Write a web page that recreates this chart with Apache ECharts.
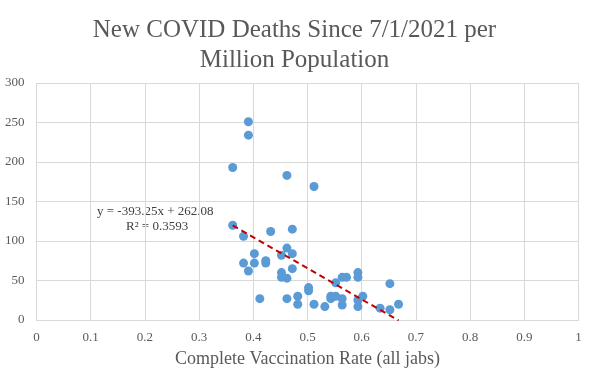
<!DOCTYPE html>
<html><head><meta charset="utf-8">
<script src="https://cdn.jsdelivr.net/npm/echarts@6/dist/echarts.min.js"></script>
<style>html,body{margin:0;padding:0;background:#fff}#c{width:589px;height:380px}</style>
</head><body><div id="c"></div>
<script>
const vaxRate = [0.362,0.391,0.391,0.462,0.512,0.362,0.382,0.432,0.472,0.462,0.402,0.452,0.472,0.382,0.402,0.423,0.423,0.391,0.472,0.452,0.452,0.462,0.502,0.502,0.412,0.462,0.482,0.482,0.512,0.532,0.543,0.543,0.552,0.552,0.564,0.572,0.593,0.593,0.652,0.564,0.564,0.593,0.593,0.602,0.634,0.652,0.668];
const deaths = [193,251,234,183,169,120,106,112,115,91,84,82,84,72,72,75,72,62,65,60,54,53,41,37,27,27,30,20,20,17,27,30,30,47,54,54,60,54,46,27,19,25,17,30,15,13,20];
const trendSlope = -393.25;
const trendIntercept = 262.08;
const trendText = ["y = -393.25x + 262.08", "R² = 0.3593"];

const pts = vaxRate.map((x, i) => [x, deaths[i]]);
const xMin = Math.min(...vaxRate), xMax = Math.max(...vaxRate);
const trend = [[xMin, trendSlope * xMin + trendIntercept], [xMax, trendSlope * xMax + trendIntercept]];

const chart = echarts.init(document.getElementById('c'));
const serif = '"Liberation Serif","DejaVu Serif",serif';
chart.setOption({
  animation: false,
  title: {
    text: 'New COVID Deaths Since 7/1/2021 per\nMillion Population',
    left: 'center', top: 10,
    textStyle: {fontFamily: serif, fontSize: 25, fontWeight: 'normal', color: '#595959', lineHeight: 30}
  },
  grid: {left: 36.5, right: 10.5, top: 83, bottom: 60},
  xAxis: {
    type: 'value', min: 0, max: 1, interval: 0.1,
    name: 'Complete Vaccination Rate (all jabs)', nameLocation: 'middle', nameGap: 30,
    nameTextStyle: {fontFamily: serif, fontSize: 18, color: '#595959'},
    axisLine: {show: true, lineStyle: {color: '#d9d9d9'}},
    axisTick: {show: false},
    axisLabel: {fontFamily: serif, fontSize: 13, color: '#595959', margin: 11,
      formatter: v => String(Math.round(v * 10) / 10)},
    splitLine: {show: true, lineStyle: {color: '#d9d9d9'}}
  },
  yAxis: {
    type: 'value', min: 0, max: 300, interval: 50,
    axisLine: {show: false}, axisTick: {show: false},
    axisLabel: {fontFamily: serif, fontSize: 13, color: '#595959', margin: 12},
    splitLine: {lineStyle: {color: '#d9d9d9'}}
  },
  series: [
    {type: 'scatter', data: pts, symbolSize: 9, itemStyle: {color: '#5B9BD5', opacity: 1}, z: 3},
    {type: 'line', data: trend, symbol: 'none', lineStyle: {color: '#C00000', width: 2, type: [6, 4]}, z: 4}
  ],
  graphic: [
    {type: 'text', left: 97, top: 205, style: {text: trendText[0], font: '13px ' + serif, fill: '#404040'}},
    {type: 'text', left: 126, top: 220, style: {text: trendText[1], font: '13px ' + serif, fill: '#404040'}}
  ]
});
</script></body></html>
